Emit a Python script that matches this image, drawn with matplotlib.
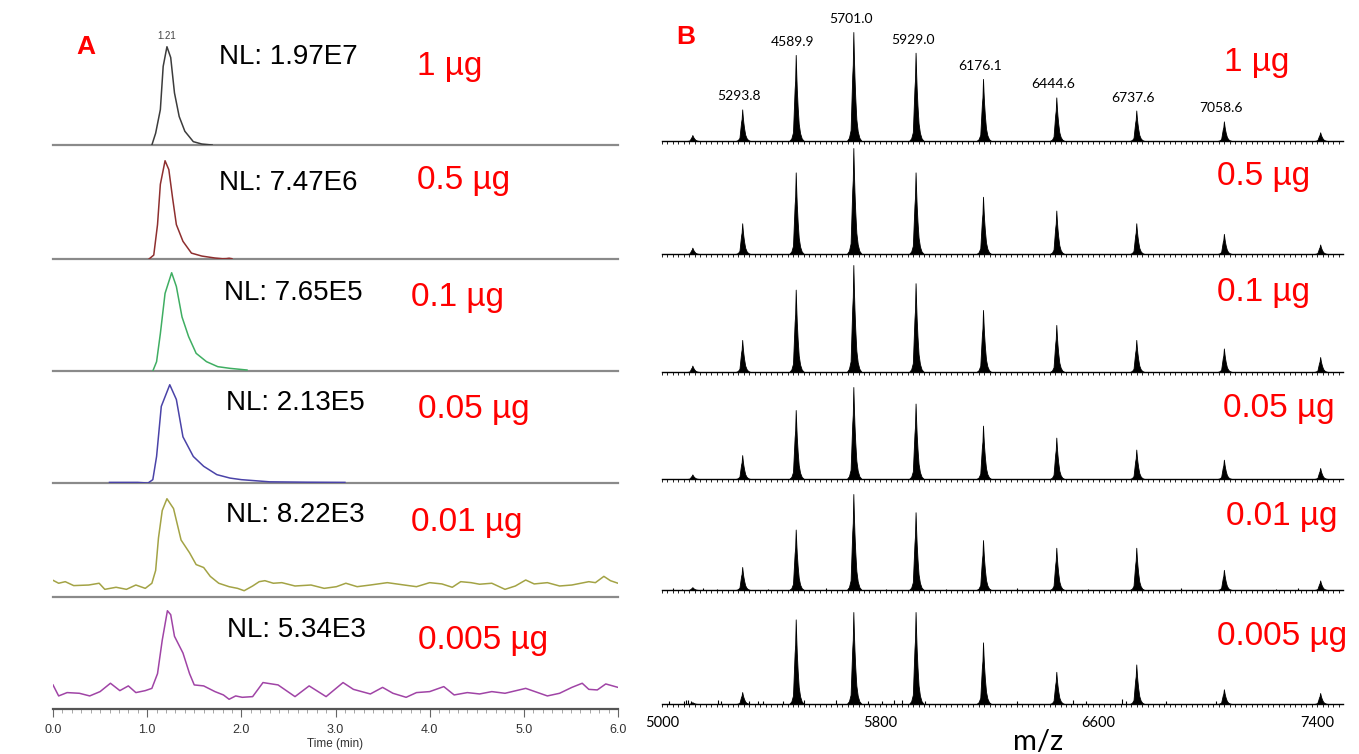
"""Two-panel figure: XIC traces (A) and deconvolution-ready MS spectra (B)
for six sample loads. Values read off the reference picture."""

import matplotlib
matplotlib.use("Agg")
import matplotlib.pyplot as plt
from matplotlib.ticker import MultipleLocator, FixedLocator

W, H = 1359, 754

# ---- panel A data: retention time (min) vs relative intensity (%) ----
amounts = ["1 µg", "0.5 µg", "0.1 µg", "0.05 µg", "0.01 µg", "0.005 µg"]
nl_labels = ["NL: 1.97E7", "NL: 7.47E6", "NL: 7.65E5",
             "NL: 2.13E5", "NL: 8.22E3", "NL: 5.34E3"]
apex_rt = 1.21

t_1 = [1.05, 1.09, 1.14, 1.17, 1.21, 1.25, 1.29, 1.34, 1.40, 1.49, 1.58, 1.69]
i_1 = [0, 12, 36, 80, 100, 89, 53, 29, 14, 3.4, 1, 0]

t_05 = [1.02, 1.07, 1.11, 1.14, 1.19, 1.23, 1.27, 1.31, 1.38, 1.47, 1.58,
        1.72, 1.80, 1.84, 1.87, 1.90]
i_05 = [0, 4, 35, 76, 100, 91, 62, 35, 18, 6, 3, 1, 0.3, 0.4, 0.8, 0.3]

t_01 = [1.06, 1.10, 1.14, 1.19, 1.26, 1.31, 1.37, 1.44, 1.52, 1.63, 1.75,
        1.88, 2.06]
i_01 = [0, 9.5, 38, 79, 100, 86, 55, 35, 18, 9.5, 4.4, 2.7, 1]

t_005 = [0.6, 0.9, 1.01, 1.06, 1.10, 1.15, 1.24, 1.31, 1.38, 1.49, 1.60,
         1.74, 1.88, 2.00, 2.3, 2.7, 3.1]
i_005 = [0.6, 0.6, 0, 3.4, 27, 78, 100, 85, 47, 27, 17, 8.5, 5, 3.4,
         1.2, 0.8, 0.6]

t_001 = [0.0, 0.06, 0.13, 0.22, 0.38, 0.49, 0.55, 0.67, 0.78, 0.88, 0.98,
         1.05, 1.09, 1.12, 1.16, 1.21, 1.28, 1.33, 1.36, 1.45, 1.52, 1.60,
         1.67, 1.76, 1.87, 1.96, 2.03, 2.12, 2.19, 2.25, 2.34, 2.43, 2.57,
         2.74, 2.88, 3.01, 3.11, 3.23, 3.37, 3.55, 3.73, 3.86, 4.00, 4.13,
         4.24, 4.33, 4.44, 4.53, 4.66, 4.80, 4.91, 5.02, 5.11, 5.25, 5.38,
         5.51, 5.69, 5.76, 5.85, 5.92, 6.0]
i_001 = [17, 14, 15.6, 11.6, 12.2, 14, 7.8, 9.9, 7.8, 12.2, 8.8,
         14, 27, 60, 88, 100, 90, 70, 58, 45, 33, 30,
         21, 14, 10.5, 8.8, 6.4, 11.2, 15.6, 16.6, 14, 14.6, 11.2,
         12.2, 8.8, 10.5, 14, 10.5, 12.2, 14.6, 12.2, 10.5, 14.6, 13.3,
         9.9, 15.6, 14.6, 13, 14, 7.8, 11.2, 17.3, 13.3, 14.6, 11.2,
         12.2, 15.6, 14.6, 21, 16.6, 14]

t_0005 = [0.0, 0.06, 0.15, 0.28, 0.39, 0.50, 0.61, 0.71, 0.80, 0.88, 0.98,
          1.05, 1.11, 1.16, 1.215, 1.25, 1.29, 1.38, 1.45, 1.50, 1.60, 1.72,
          1.81, 1.87, 1.94, 2.01, 2.12, 2.23, 2.39, 2.57, 2.72, 2.90, 3.08,
          3.19, 3.37, 3.50, 3.61, 3.75, 3.86, 4.00, 4.15, 4.26, 4.40, 4.53,
          4.66, 4.80, 5.02, 5.25, 5.38, 5.51, 5.62, 5.69, 5.78, 5.87, 6.0]
i_0005 = [24.5, 13.3, 16.7, 16, 13.3, 17.7, 26.2, 18.7, 23.5, 16.7, 18.7,
          21, 36, 70, 100, 96, 74, 57, 36, 24.5, 23.5, 17.7,
          14.3, 9.9, 13.3, 11.9, 12.6, 26.9, 24.5, 12.6, 23.5, 12.6, 26.9,
          20, 15.3, 22, 16, 11.9, 16.7, 17.7, 22.8, 14.3, 16.7, 15.3,
          17.7, 16, 21, 13.3, 16, 22, 26.2, 20, 19.4, 25.5, 22]

a_times = [t_1, t_05, t_01, t_005, t_001, t_0005]
a_intens = [i_1, i_05, i_01, i_005, i_001, i_0005]
a_colors = ["#3c3c3c", "#8e2f2f", "#3fae62", "#4a43a8", "#a3a345", "#a044a6"]

# ---- panel B data: charge-state envelope (m/z) and relative heights (%) ----
mz_peaks = [5111.2, 5293.8, 5489.9, 5701.0, 5929.0, 6176.1,
            6444.6, 6737.6, 7058.6, 7411.3]
mz_labels = ["", "5293.8", "4589.9", "5701.0", "5929.0", "6176.1",
             "6444.6", "6737.6", "7058.6", ""]
h_1 = [5.5, 29, 79, 100, 81, 57, 40, 28, 18, 8]
h_05 = [6, 29, 77, 100, 77, 54, 41, 29, 19, 9]
h_01 = [6, 30, 77, 100, 83, 58, 44, 30, 22, 14]
h_005 = [5, 26, 75, 100, 82, 58, 45, 32, 21, 12]
h_001 = [3, 24, 63, 100, 81, 52, 44, 44, 21, 10]
h_0005 = [2, 13, 92, 100, 100, 67, 35, 43, 16, 12]
b_heights = [h_1, h_05, h_01, h_005, h_001, h_0005]

# small noise spikes in the two lowest loads
noise_mz_001 = [5040, 5075, 5150, 5200, 5390, 5600, 5820, 6040, 6300,
                6560, 6900, 7250, 7330]
noise_h_001 = [2, 1.5, 2, 1.5, 1.5, 2, 1.5, 1.5, 2, 1.5, 2, 1.5, 2]
noise_mz_0005 = [5027, 5081, 5088, 5096, 5107, 5204, 5215, 5319, 5353, 5369,
                 5442, 5522, 5637, 5753, 5806, 5849, 5879, 5964, 6302, 6505,
                 6555, 6686, 6701, 6847, 7028, 7404]
noise_h_0005 = [3, 3, 4, 4, 3, 4, 3, 3, 3, 3, 3, 4, 4, 3, 3, 4, 4, 3, 3,
                4, 3, 5, 3, 3, 3, 3]

# one charge-state peak profile: offset (Da) vs fraction of apex
peak_offsets = [-24, -16, -10, -7, -4, -2, 0, 2, 4, 7, 11, 16, 22, 30]
peak_profile = [0, 0.03, 0.1, 0.35, 0.6, 0.7, 1.0, 0.78, 0.6, 0.4,
                0.2, 0.09, 0.03, 0]

# ---- layout (pixels of the 1359x754 canvas) ----
a_base = [145, 259, 371, 483, 597, 709]
b_base = [141, 254, 372, 479, 590, 704]
b_max_px = [109, 106, 107, 92, 96, 92]
a_nl_xy = [(219, 57), (219, 183), (224, 293), (226, 403), (226, 515), (227, 630)]
a_amt_xy = [(417, 66), (417, 180), (411, 297), (418, 410), (411, 522), (418, 640)]
b_amt_xy = [(1224, 63), (1217, 176), (1217, 293), (1223, 408), (1226, 517),
            (1217, 636)]
PANEL_H = 113

RED = "#ff0000"
SANS = ["Liberation Sans", "DejaVu Sans"]
LATO = ["Lato", "DejaVu Sans"]


def rect(x0, x1, base, height):
    return [x0 / W, 1 - base / H, (x1 - x0) / W, height / H]


def ftext(x, y, s, **kw):
    fig.text(x / W, 1 - y / H, s, **kw)


fig = plt.figure(figsize=(W / 100, H / 100), dpi=100)

# ---------------- panel A ----------------
for k in range(6):
    ax = fig.add_axes(rect(53, 618, a_base[k], PANEL_H))
    ax.plot(a_times[k], a_intens[k], color=a_colors[k], lw=1.1, zorder=3)
    ax.set_xlim(0, 6)
    ax.set_ylim(0, 115)
    for side in ("top", "right", "left"):
        ax.spines[side].set_visible(False)
    ax.set_yticks([])
    last = k == 5
    ax.spines["bottom"].set_color("#555555" if last else "#8a8a8a")
    ax.spines["bottom"].set_linewidth(1.6)
    ax.patch.set_alpha(0)
    if last:
        ax.xaxis.set_major_locator(MultipleLocator(1.0))
        ax.xaxis.set_minor_locator(MultipleLocator(0.1))
        ax.tick_params(axis="x", which="major", length=6, width=0.8,
                       color="#666666", pad=5, labelsize=9,
                       labelcolor="#333333")
        ax.tick_params(axis="x", which="minor", length=3, width=0.6,
                       color="#999999")
        ax.set_xticks(range(7))
        ax.set_xticklabels([f"{v:.1f}" for v in range(7)], family=SANS)
        ax.set_xlabel("Time (min)", family=SANS, fontsize=8.5,
                      color="#333333", labelpad=1)
    else:
        ax.set_xticks([])
    if k == 0:
        ax.annotate(f"{apex_rt:.2f}", (apex_rt, 100), xytext=(0, 4),
                    textcoords="offset points", ha="center", va="bottom",
                    fontsize=7, family=SANS, color="#444444")
    ftext(*a_nl_xy[k], nl_labels[k], fontsize=20, family=SANS,
          va="center", ha="left")
    ftext(*a_amt_xy[k], amounts[k], fontsize=24, family=SANS, color=RED,
          va="center", ha="left")

ftext(86, 47, "A", fontsize=19, family=SANS, weight="bold", color=RED,
      ha="center", va="center")

# ---------------- panel B ----------------
for k in range(6):
    ax = fig.add_axes(rect(662, 1343, b_base[k], PANEL_H - 1))
    for mz, h in zip(mz_peaks, b_heights[k]):
        xs = [mz + o for o in peak_offsets]
        ys = [h * p for p in peak_profile]
        ax.fill_between(xs, 0, ys, color="black", lw=0.6, zorder=3)
    if k == 4:
        ax.vlines(noise_mz_001, 0, noise_h_001, color="black", lw=0.8)
    if k == 5:
        ax.vlines(noise_mz_0005, 0, noise_h_0005, color="black", lw=0.8)
    ax.set_xlim(5000, 7495)
    ax.set_ylim(0, 100 * (PANEL_H - 1) / b_max_px[k])
    for side in ("top", "right", "left"):
        ax.spines[side].set_visible(False)
    ax.spines["bottom"].set_linewidth(1.0)
    ax.set_yticks([])
    ax.patch.set_alpha(0)
    ax.xaxis.set_minor_locator(MultipleLocator(20))
    ax.tick_params(axis="x", which="minor", length=2, width=0.6)
    ax.xaxis.set_major_locator(FixedLocator([5000, 5800, 6600, 7400]))
    if k == 5:
        ax.tick_params(axis="x", which="major", length=2.5, width=0.6,
                       pad=6, labelsize=10.5)
        for lab in ax.get_xticklabels():
            lab.set_family(LATO)
    else:
        ax.tick_params(axis="x", which="major", length=2, width=0.6,
                       labelbottom=False)
    if k == 0:
        for mz, h, lab in zip(mz_peaks, b_heights[k], mz_labels):
            if lab:
                ax.annotate(lab, (mz, h), xytext=(-2, 5),
                            textcoords="offset points", ha="center",
                            va="bottom", fontsize=10, family=LATO)
    ftext(*b_amt_xy[k], amounts[k], fontsize=24, family=SANS, color=RED,
          va="center", ha="left")

ftext(686, 37, "B", fontsize=19, family=SANS, weight="bold", color=RED,
      ha="center", va="center")
ftext(1038, 750, "m/z", fontsize=21, family=LATO, ha="center",
      va="baseline")

fig.savefig("out.png", dpi=100)
